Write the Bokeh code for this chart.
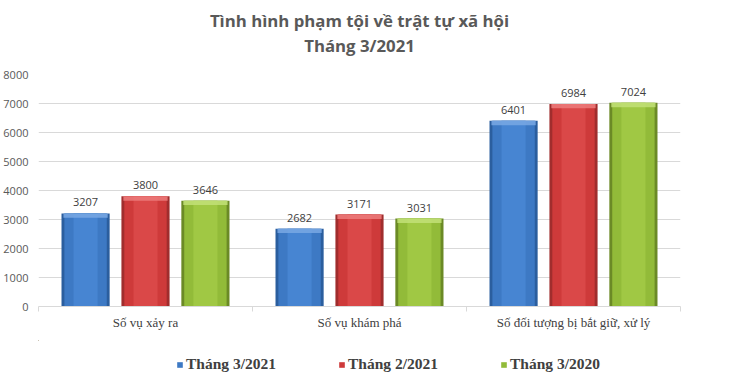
from bokeh.plotting import figure
from bokeh.layouts import column
from bokeh.models import (ColumnDataSource, FixedTicker, Legend, LegendItem, Range1d)
from bokeh.transform import dodge
from bokeh.core.properties import value
from bokeh.embed import file_html
from bokeh.resources import INLINE

# ---- data ----
categories = ["Số vụ xảy ra", "Số vụ khám phá", "Số đối tượng bị bắt giữ, xử lý"]
series_names = ["Tháng 3/2021", "Tháng 2/2021", "Tháng 3/2020"]
thang3_2021 = [3207, 2682, 6401]
thang2_2021 = [3800, 3171, 6984]
thang3_2020 = [3646, 3031, 7024]
y_ticks = [0, 1000, 2000, 3000, 4000, 5000, 6000, 7000, 8000]
title_lines = ["Tình hình phạm tội về trật tự xã hội", "Tháng 3/2021"]

series_values = [thang3_2021, thang2_2021, thang3_2020]
# (edge, main, inner highlight, top bevel)
palettes = [
    ("#2B5E9E", "#3D79C4", "#4785D2", "#79A8E4"),
    ("#A02D2D", "#CE3A3A", "#DA4848", "#EC7C7C"),
    ("#6B8A26", "#92BB39", "#A0C844", "#C2E078"),
]
offsets = [-0.28, 0.0, 0.28]
bar_w = 0.225
W = 729


def blank(h, left=0):
    f = figure(width=W, height=h, output_backend="svg", toolbar_location=None,
               x_range=Range1d(0, 1), y_range=Range1d(0, h),
               x_axis_location=None, y_axis_location=None,
               min_border_left=left, min_border_right=0, min_border_top=0,
               min_border_bottom=0, title=None)
    f.grid.visible = False
    f.outline_line_color = None
    return f


# ---- title strip ----
HT = 64
t = blank(HT, left=27)
tsrc = ColumnDataSource(dict(x=[0.5, 0.5], y=[HT - 20, HT - 45], text=title_lines))
t.text(x="x", y="y", text="text", source=tsrc, text_align="center",
       text_baseline="middle", text_font=value("Open Sans"), text_font_style="bold",
       text_font_size="16.8px", text_color="#595959")

# ---- chart ----
FRAME_H = 232
TOP = 10
H1 = 276
p = figure(width=W, height=H1, output_backend="svg", toolbar_location=None,
           x_range=Range1d(0, len(categories)), y_range=Range1d(0, 8000),
           min_border_left=38, min_border_right=49, min_border_top=TOP,
           min_border_bottom=H1 - TOP - FRAME_H, title=None)
p.outline_line_color = None
p.background_fill_color = "white"
p.border_fill_color = "white"

p.xgrid.grid_line_color = None
p.ygrid.grid_line_color = "#D9D9D9"
p.ygrid.ticker = FixedTicker(ticks=y_ticks)

p.yaxis.ticker = FixedTicker(ticks=y_ticks)
p.yaxis.axis_line_color = None
p.yaxis.major_tick_line_color = None
p.yaxis.minor_tick_line_color = None
p.yaxis.major_label_text_font = "Open Sans"
p.yaxis.major_label_text_font_size = "11px"
p.yaxis.major_label_text_color = "#595959"
p.yaxis.major_label_standoff = 4

centers = [i + 0.5 for i in range(len(categories))]
bounds = [float(i) for i in range(len(categories) + 1)]
p.xaxis.ticker = FixedTicker(ticks=centers, minor_ticks=bounds)
p.xaxis.major_label_overrides = {c: lab for c, lab in zip(centers, categories)}
p.xaxis.axis_line_color = "#D9D9D9"
p.xaxis.major_tick_line_color = None
p.xaxis.minor_tick_line_color = "#D9D9D9"
p.xaxis.minor_tick_out = 5
p.xaxis.minor_tick_in = 0
p.xaxis.major_label_text_font = "Liberation Serif"
p.xaxis.major_label_text_font_size = "13px"
p.xaxis.major_label_text_color = "#404040"
p.xaxis.major_label_standoff = 2

sources = []
for name, vals, pal, off in zip(series_names, series_values, palettes, offsets):
    src = ColumnDataSource(dict(x=centers, top=vals, lbl=[str(v) for v in vals],
                                bevel=[v - 150 for v in vals]))
    sources.append(src)
    xd = dodge("x", off, range=p.x_range)
    p.vbar(x=xd, top="top", bottom=0, width=bar_w, source=src,
           fill_color=pal[0], line_color=None)
    p.vbar(x=xd, top="top", bottom=0, width=bar_w * 0.88, source=src,
           fill_color=pal[1], line_color=None)
    p.vbar(x=xd, top="top", bottom=0, width=bar_w * 0.5, source=src,
           fill_color=pal[2], line_color=None)
    p.vbar(x=xd, top="top", bottom="bevel", width=bar_w * 0.92, source=src,
           fill_color=pal[3], line_color=None, fill_alpha=0.85)
    p.text(x=xd, y="top", text="lbl", source=src, text_align="center",
           text_baseline="bottom", y_offset=-7, text_font_size="11px",
           text_color="#404040", text_font=value("Open Sans"))

# ---- legend strip ----
H2 = 40
q = blank(H2)
# series bars lie completely outside this view; only the legend glyphs show
q.x_range = Range1d(50, 51)
q.y_range = Range1d(-20000, -10000)
items = []
for name, pal, src in zip(series_names, palettes, sources):
    r = q.vbar(x="x", top="top", bottom=0, width=0.1, source=src,
               fill_color=pal[1], line_color=None)
    items.append(LegendItem(label=name, renderers=[r]))
legend = Legend(items=items, orientation="horizontal", location=(138, 7),
                glyph_width=7, glyph_height=7, label_standoff=3, spacing=62,
                label_text_font="Liberation Serif", label_text_font_style="bold",
                label_text_font_size="15.5px", label_text_color="#404040",
                border_line_color=None, background_fill_alpha=0, padding=2,
                margin=0)
q.add_layout(legend, "center")

layout = column(t, p, q, spacing=0)
open("out.html", "w").write(file_html(layout, INLINE))
